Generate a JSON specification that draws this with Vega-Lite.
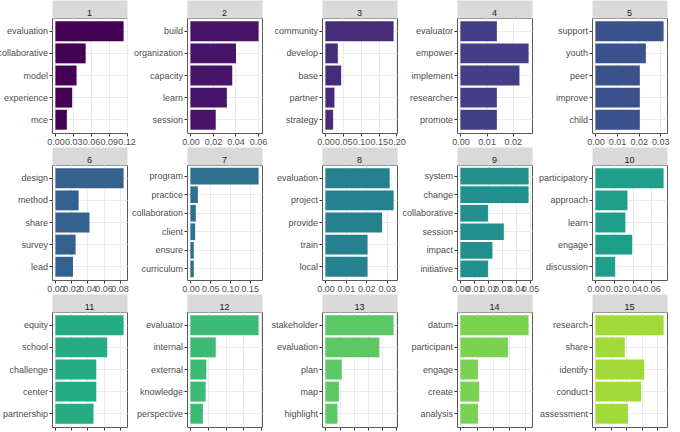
{
  "$schema": "https://vega.github.io/schema/vega-lite/v6.json",
  "padding": {"left": -4, "top": 8, "right": 0, "bottom": 0},
  "data": {
    "values": [
      {"topic": 1, "rank": 1, "term": "evaluation", "beta": 0.115},
      {"topic": 1, "rank": 2, "term": "collaborative", "beta": 0.051},
      {"topic": 1, "rank": 3, "term": "model", "beta": 0.0357},
      {"topic": 1, "rank": 4, "term": "experience", "beta": 0.0283},
      {"topic": 1, "rank": 5, "term": "mce", "beta": 0.0193},
      {"topic": 2, "rank": 1, "term": "build", "beta": 0.0606},
      {"topic": 2, "rank": 2, "term": "organization", "beta": 0.0405},
      {"topic": 2, "rank": 3, "term": "capacity", "beta": 0.0372},
      {"topic": 2, "rank": 4, "term": "learn", "beta": 0.0324},
      {"topic": 2, "rank": 5, "term": "session", "beta": 0.0225},
      {"topic": 3, "rank": 1, "term": "community", "beta": 0.192},
      {"topic": 3, "rank": 2, "term": "develop", "beta": 0.035},
      {"topic": 3, "rank": 3, "term": "base", "beta": 0.0444},
      {"topic": 3, "rank": 4, "term": "partner", "beta": 0.0255},
      {"topic": 3, "rank": 5, "term": "strategy", "beta": 0.0218},
      {"topic": 4, "rank": 1, "term": "evaluator", "beta": 0.0139},
      {"topic": 4, "rank": 2, "term": "empower", "beta": 0.026},
      {"topic": 4, "rank": 3, "term": "implement", "beta": 0.0225},
      {"topic": 4, "rank": 4, "term": "researcher", "beta": 0.0139},
      {"topic": 4, "rank": 5, "term": "promote", "beta": 0.0139},
      {"topic": 5, "rank": 1, "term": "support", "beta": 0.0315},
      {"topic": 5, "rank": 2, "term": "youth", "beta": 0.0233},
      {"topic": 5, "rank": 3, "term": "peer", "beta": 0.0205},
      {"topic": 5, "rank": 4, "term": "improve", "beta": 0.0205},
      {"topic": 5, "rank": 5, "term": "child", "beta": 0.0205},
      {"topic": 6, "rank": 1, "term": "design", "beta": 0.085},
      {"topic": 6, "rank": 2, "term": "method", "beta": 0.0289},
      {"topic": 6, "rank": 3, "term": "share", "beta": 0.0425},
      {"topic": 6, "rank": 4, "term": "survey", "beta": 0.0252},
      {"topic": 6, "rank": 5, "term": "lead", "beta": 0.0219},
      {"topic": 7, "rank": 1, "term": "program", "beta": 0.172},
      {"topic": 7, "rank": 2, "term": "practice", "beta": 0.0188},
      {"topic": 7, "rank": 3, "term": "collaboration", "beta": 0.0137},
      {"topic": 7, "rank": 4, "term": "client", "beta": 0.012},
      {"topic": 7, "rank": 5, "term": "ensure", "beta": 0.0086},
      {"topic": 7, "rank": 6, "term": "curriculum", "beta": 0.0086},
      {"topic": 8, "rank": 1, "term": "evaluation", "beta": 0.0314},
      {"topic": 8, "rank": 2, "term": "project", "beta": 0.0333},
      {"topic": 8, "rank": 3, "term": "provide", "beta": 0.0277},
      {"topic": 8, "rank": 4, "term": "train", "beta": 0.0206},
      {"topic": 8, "rank": 5, "term": "local", "beta": 0.0206},
      {"topic": 9, "rank": 1, "term": "system", "beta": 0.049},
      {"topic": 9, "rank": 2, "term": "change", "beta": 0.049},
      {"topic": 9, "rank": 3, "term": "collaborative", "beta": 0.0198},
      {"topic": 9, "rank": 4, "term": "session", "beta": 0.0312},
      {"topic": 9, "rank": 5, "term": "impact", "beta": 0.023},
      {"topic": 9, "rank": 6, "term": "initiative", "beta": 0.0198},
      {"topic": 10, "rank": 1, "term": "participatory", "beta": 0.073},
      {"topic": 10, "rank": 2, "term": "approach", "beta": 0.0343},
      {"topic": 10, "rank": 3, "term": "learn", "beta": 0.0321},
      {"topic": 10, "rank": 4, "term": "engage", "beta": 0.0394},
      {"topic": 10, "rank": 5, "term": "discussion", "beta": 0.0212},
      {"topic": 11, "rank": 1, "term": "equity", "beta": 0.085},
      {"topic": 11, "rank": 2, "term": "school", "beta": 0.0646},
      {"topic": 11, "rank": 3, "term": "challenge", "beta": 0.051},
      {"topic": 11, "rank": 4, "term": "center", "beta": 0.051},
      {"topic": 11, "rank": 5, "term": "partnership", "beta": 0.0475},
      {"topic": 12, "rank": 1, "term": "evaluator", "beta": 0.193},
      {"topic": 12, "rank": 2, "term": "internal", "beta": 0.0717},
      {"topic": 12, "rank": 3, "term": "external", "beta": 0.045},
      {"topic": 12, "rank": 4, "term": "knowledge", "beta": 0.043},
      {"topic": 12, "rank": 5, "term": "perspective", "beta": 0.0354},
      {"topic": 13, "rank": 1, "term": "stakeholder", "beta": 0.048},
      {"topic": 13, "rank": 2, "term": "evaluation", "beta": 0.038},
      {"topic": 13, "rank": 3, "term": "plan", "beta": 0.0115},
      {"topic": 13, "rank": 4, "term": "map", "beta": 0.0095},
      {"topic": 13, "rank": 5, "term": "highlight", "beta": 0.0085},
      {"topic": 14, "rank": 1, "term": "datum", "beta": 0.0846},
      {"topic": 14, "rank": 2, "term": "participant", "beta": 0.059},
      {"topic": 14, "rank": 3, "term": "engage", "beta": 0.0217},
      {"topic": 14, "rank": 4, "term": "create", "beta": 0.0234},
      {"topic": 14, "rank": 5, "term": "analysis", "beta": 0.0217},
      {"topic": 15, "rank": 1, "term": "research", "beta": 0.088},
      {"topic": 15, "rank": 2, "term": "share", "beta": 0.038},
      {"topic": 15, "rank": 3, "term": "identify", "beta": 0.063},
      {"topic": 15, "rank": 4, "term": "conduct", "beta": 0.059},
      {"topic": 15, "rank": 5, "term": "assessment", "beta": 0.042}
    ]
  },
  "columns": 5,
  "spacing": {"row": 32, "column": 60},
  "bounds": "flush",
  "resolve": {"scale": {"x": "independent", "y": "independent"}},
  "concat": [
    {"title": "1", "transform": [{"filter": "datum.topic == 1"}], "resolve": {"axis": {"x": "independent"}}, "layer": [
      {"mark": "bar", "encoding": {"x": {"field": "beta", "type": "quantitative", "scale": {"nice": false, "padding": 3.4}, "axis": {"title": null, "values": [0, 0.03, 0.06, 0.09, 0.12]}}, "y": {"field": "term", "type": "nominal", "sort": {"field": "rank"}, "axis": {"title": null}}, "color": {"field": "topic", "type": "nominal", "legend": null}}},
      {"mark": {"type": "bar", "opacity": 0}, "encoding": {"x": {"field": "beta", "type": "quantitative", "stack": null, "axis": {"orient": "top", "title": null, "values": [0.015, 0.045, 0.075, 0.105]}}}}
    ]},
    {"title": "2", "transform": [{"filter": "datum.topic == 2"}], "resolve": {"axis": {"x": "independent"}}, "layer": [
      {"mark": "bar", "encoding": {"x": {"field": "beta", "type": "quantitative", "scale": {"nice": false, "padding": 3.4}, "axis": {"title": null, "values": [0, 0.02, 0.04, 0.06]}}, "y": {"field": "term", "type": "nominal", "sort": {"field": "rank"}, "axis": {"title": null}}, "color": {"field": "topic", "type": "nominal", "legend": null}}},
      {"mark": {"type": "bar", "opacity": 0}, "encoding": {"x": {"field": "beta", "type": "quantitative", "stack": null, "axis": {"orient": "top", "title": null, "values": [0.01, 0.03, 0.05]}}}}
    ]},
    {"title": "3", "transform": [{"filter": "datum.topic == 3"}], "resolve": {"axis": {"x": "independent"}}, "layer": [
      {"mark": "bar", "encoding": {"x": {"field": "beta", "type": "quantitative", "scale": {"nice": false, "padding": 3.4}, "axis": {"title": null, "values": [0, 0.05, 0.1, 0.15, 0.2]}}, "y": {"field": "term", "type": "nominal", "sort": {"field": "rank"}, "axis": {"title": null}}, "color": {"field": "topic", "type": "nominal", "legend": null}}},
      {"mark": {"type": "bar", "opacity": 0}, "encoding": {"x": {"field": "beta", "type": "quantitative", "stack": null, "axis": {"orient": "top", "title": null, "values": [0.025, 0.075, 0.125, 0.175]}}}}
    ]},
    {"title": "4", "transform": [{"filter": "datum.topic == 4"}], "resolve": {"axis": {"x": "independent"}}, "layer": [
      {"mark": "bar", "encoding": {"x": {"field": "beta", "type": "quantitative", "scale": {"nice": false, "padding": 3.4}, "axis": {"title": null, "values": [0, 0.01, 0.02]}}, "y": {"field": "term", "type": "nominal", "sort": {"field": "rank"}, "axis": {"title": null}}, "color": {"field": "topic", "type": "nominal", "legend": null}}},
      {"mark": {"type": "bar", "opacity": 0}, "encoding": {"x": {"field": "beta", "type": "quantitative", "stack": null, "axis": {"orient": "top", "title": null, "values": [0.005, 0.015, 0.025]}}}}
    ]},
    {"title": "5", "transform": [{"filter": "datum.topic == 5"}], "resolve": {"axis": {"x": "independent"}}, "layer": [
      {"mark": "bar", "encoding": {"x": {"field": "beta", "type": "quantitative", "scale": {"nice": false, "padding": 3.4}, "axis": {"title": null, "values": [0, 0.01, 0.02, 0.03]}}, "y": {"field": "term", "type": "nominal", "sort": {"field": "rank"}, "axis": {"title": null}}, "color": {"field": "topic", "type": "nominal", "legend": null}}},
      {"mark": {"type": "bar", "opacity": 0}, "encoding": {"x": {"field": "beta", "type": "quantitative", "stack": null, "axis": {"orient": "top", "title": null, "values": [0.005, 0.015, 0.025]}}}}
    ]},
    {"title": "6", "transform": [{"filter": "datum.topic == 6"}], "resolve": {"axis": {"x": "independent"}}, "layer": [
      {"mark": "bar", "encoding": {"x": {"field": "beta", "type": "quantitative", "scale": {"nice": false, "padding": 3.4}, "axis": {"title": null, "values": [0, 0.02, 0.04, 0.06, 0.08]}}, "y": {"field": "term", "type": "nominal", "sort": {"field": "rank"}, "axis": {"title": null}}, "color": {"field": "topic", "type": "nominal", "legend": null}}},
      {"mark": {"type": "bar", "opacity": 0}, "encoding": {"x": {"field": "beta", "type": "quantitative", "stack": null, "axis": {"orient": "top", "title": null, "values": [0.01, 0.03, 0.05, 0.07]}}}}
    ]},
    {"title": "7", "transform": [{"filter": "datum.topic == 7"}], "resolve": {"axis": {"x": "independent"}}, "layer": [
      {"mark": "bar", "encoding": {"x": {"field": "beta", "type": "quantitative", "scale": {"nice": false, "padding": 3.4}, "axis": {"title": null, "values": [0, 0.05, 0.1, 0.15]}}, "y": {"field": "term", "type": "nominal", "sort": {"field": "rank"}, "axis": {"title": null}}, "color": {"field": "topic", "type": "nominal", "legend": null}}},
      {"mark": {"type": "bar", "opacity": 0}, "encoding": {"x": {"field": "beta", "type": "quantitative", "stack": null, "axis": {"orient": "top", "title": null, "values": [0.025, 0.075, 0.125, 0.175]}}}}
    ]},
    {"title": "8", "transform": [{"filter": "datum.topic == 8"}], "resolve": {"axis": {"x": "independent"}}, "layer": [
      {"mark": "bar", "encoding": {"x": {"field": "beta", "type": "quantitative", "scale": {"nice": false, "padding": 3.4}, "axis": {"title": null, "values": [0, 0.01, 0.02, 0.03]}}, "y": {"field": "term", "type": "nominal", "sort": {"field": "rank"}, "axis": {"title": null}}, "color": {"field": "topic", "type": "nominal", "legend": null}}},
      {"mark": {"type": "bar", "opacity": 0}, "encoding": {"x": {"field": "beta", "type": "quantitative", "stack": null, "axis": {"orient": "top", "title": null, "values": [0.005, 0.015, 0.025]}}}}
    ]},
    {"title": "9", "transform": [{"filter": "datum.topic == 9"}], "resolve": {"axis": {"x": "independent"}}, "layer": [
      {"mark": "bar", "encoding": {"x": {"field": "beta", "type": "quantitative", "scale": {"nice": false, "padding": 3.4}, "axis": {"title": null, "values": [0, 0.01, 0.02, 0.03, 0.04, 0.05]}}, "y": {"field": "term", "type": "nominal", "sort": {"field": "rank"}, "axis": {"title": null}}, "color": {"field": "topic", "type": "nominal", "legend": null}}},
      {"mark": {"type": "bar", "opacity": 0}, "encoding": {"x": {"field": "beta", "type": "quantitative", "stack": null, "axis": {"orient": "top", "title": null, "values": [0.005, 0.015, 0.025, 0.035, 0.045]}}}}
    ]},
    {"title": "10", "transform": [{"filter": "datum.topic == 10"}], "resolve": {"axis": {"x": "independent"}}, "layer": [
      {"mark": "bar", "encoding": {"x": {"field": "beta", "type": "quantitative", "scale": {"nice": false, "padding": 3.4}, "axis": {"title": null, "values": [0, 0.02, 0.04, 0.06]}}, "y": {"field": "term", "type": "nominal", "sort": {"field": "rank"}, "axis": {"title": null}}, "color": {"field": "topic", "type": "nominal", "legend": null}}},
      {"mark": {"type": "bar", "opacity": 0}, "encoding": {"x": {"field": "beta", "type": "quantitative", "stack": null, "axis": {"orient": "top", "title": null, "values": [0.01, 0.03, 0.05, 0.07]}}}}
    ]},
    {"title": "11", "transform": [{"filter": "datum.topic == 11"}], "resolve": {"axis": {"x": "independent"}}, "layer": [
      {"mark": "bar", "encoding": {"x": {"field": "beta", "type": "quantitative", "scale": {"nice": false, "padding": 3.4}, "axis": {"title": null, "values": [0, 0.02, 0.04, 0.06, 0.08]}}, "y": {"field": "term", "type": "nominal", "sort": {"field": "rank"}, "axis": {"title": null}}, "color": {"field": "topic", "type": "nominal", "legend": null}}},
      {"mark": {"type": "bar", "opacity": 0}, "encoding": {"x": {"field": "beta", "type": "quantitative", "stack": null, "axis": {"orient": "top", "title": null, "values": [0.01, 0.03, 0.05, 0.07]}}}}
    ]},
    {"title": "12", "transform": [{"filter": "datum.topic == 12"}], "resolve": {"axis": {"x": "independent"}}, "layer": [
      {"mark": "bar", "encoding": {"x": {"field": "beta", "type": "quantitative", "scale": {"nice": false, "padding": 3.4}, "axis": {"title": null, "values": [0, 0.05, 0.1, 0.15, 0.2]}}, "y": {"field": "term", "type": "nominal", "sort": {"field": "rank"}, "axis": {"title": null}}, "color": {"field": "topic", "type": "nominal", "legend": null}}},
      {"mark": {"type": "bar", "opacity": 0}, "encoding": {"x": {"field": "beta", "type": "quantitative", "stack": null, "axis": {"orient": "top", "title": null, "values": [0.025, 0.075, 0.125, 0.175]}}}}
    ]},
    {"title": "13", "transform": [{"filter": "datum.topic == 13"}], "resolve": {"axis": {"x": "independent"}}, "layer": [
      {"mark": "bar", "encoding": {"x": {"field": "beta", "type": "quantitative", "scale": {"nice": false, "padding": 3.4}, "axis": {"title": null, "values": [0, 0.01, 0.02, 0.03, 0.04, 0.05]}}, "y": {"field": "term", "type": "nominal", "sort": {"field": "rank"}, "axis": {"title": null}}, "color": {"field": "topic", "type": "nominal", "legend": null}}},
      {"mark": {"type": "bar", "opacity": 0}, "encoding": {"x": {"field": "beta", "type": "quantitative", "stack": null, "axis": {"orient": "top", "title": null, "values": [0.005, 0.015, 0.025, 0.035, 0.045]}}}}
    ]},
    {"title": "14", "transform": [{"filter": "datum.topic == 14"}], "resolve": {"axis": {"x": "independent"}}, "layer": [
      {"mark": "bar", "encoding": {"x": {"field": "beta", "type": "quantitative", "scale": {"nice": false, "padding": 3.4}, "axis": {"title": null, "values": [0, 0.02, 0.04, 0.06, 0.08]}}, "y": {"field": "term", "type": "nominal", "sort": {"field": "rank"}, "axis": {"title": null}}, "color": {"field": "topic", "type": "nominal", "legend": null}}},
      {"mark": {"type": "bar", "opacity": 0}, "encoding": {"x": {"field": "beta", "type": "quantitative", "stack": null, "axis": {"orient": "top", "title": null, "values": [0.01, 0.03, 0.05, 0.07]}}}}
    ]},
    {"title": "15", "transform": [{"filter": "datum.topic == 15"}], "resolve": {"axis": {"x": "independent"}}, "layer": [
      {"mark": "bar", "encoding": {"x": {"field": "beta", "type": "quantitative", "scale": {"nice": false, "padding": 3.4}, "axis": {"title": null, "values": [0, 0.02, 0.04, 0.06, 0.08]}}, "y": {"field": "term", "type": "nominal", "sort": {"field": "rank"}, "axis": {"title": null}}, "color": {"field": "topic", "type": "nominal", "legend": null}}},
      {"mark": {"type": "bar", "opacity": 0}, "encoding": {"x": {"field": "beta", "type": "quantitative", "stack": null, "axis": {"orient": "top", "title": null, "values": [0.01, 0.03, 0.05, 0.07, 0.09]}}}}
    ]}
  ],
  "config": {
    "font": "Liberation Sans",
    "background": "white",
    "view": {"continuousWidth": 75, "discreteWidth": 75, "continuousHeight": 115, "discreteHeight": 115, "stroke": "#595959", "strokeWidth": 1},
    "range": {"category": ["#440154", "#481467", "#472C7A", "#433E85", "#3B518B", "#34618D", "#2D718E", "#26818E", "#21908D", "#1F9E89", "#25AC82", "#3CBB75", "#5BC863", "#7BD250", "#A2DA37"]},
    "scale": {"bandPaddingInner": 0.1, "barBandPaddingInner": 0.1, "bandPaddingOuter": 0.15},
    "axis": {"domain": false, "labelFontSize": 9, "labelColor": "#4D4D4D", "tickColor": "#333333", "tickSize": 3, "labelPadding": 1.5, "gridColor": "#EBEBEB", "labelOverlap": false, "labelFlush": false, "labelBound": false},
    "axisX": {"format": ".2f", "grid": true},
    "axisY": {"grid": true, "bandPosition": 0.5},
    "axisTop": {"ticks": false, "labels": false, "grid": true, "gridWidth": 0.5, "domain": true, "domainColor": "#D9D9D9", "domainWidth": 18, "offset": 9},
    "title": {"fontSize": 9, "fontWeight": "normal", "color": "#1A1A1A", "anchor": "middle", "frame": "group", "baseline": "middle", "offset": -9}
  }
}
